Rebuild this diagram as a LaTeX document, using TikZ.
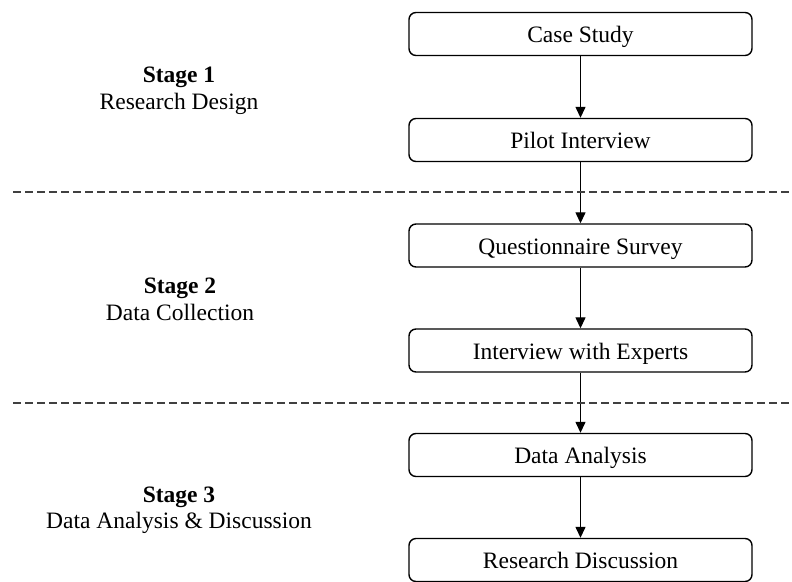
\documentclass[tikz,border=0pt]{standalone}
\usepackage{fontspec}
\setmainfont{Liberation Serif}
\usetikzlibrary{arrows.meta}
\begin{document}
\begin{tikzpicture}[x=1pt,y=-1pt,
  stepbox/.style={draw, line width=1.4pt, rounded corners=7pt, minimum width=343pt, minimum height=43pt, inner sep=0pt, text height=17pt, text depth=0pt, font=\fontsize{23.5}{27}\selectfont},
  stagetitle/.style={anchor=base, font=\fontsize{23.5}{27}\selectfont\bfseries, inner sep=0pt},
  stagesub/.style={anchor=base, font=\fontsize{23.5}{27}\selectfont, inner sep=0pt},
  flow/.style={line width=1.3pt, -{Triangle[length=11pt,width=10pt]}},
  divider/.style={line width=1.3pt, draw=black!75, dash pattern=on 8pt off 4pt}]
\useasboundingbox (0,0) rectangle (792,581);
\node[stepbox] (cs) at (580.5,34) {Case Study};
\node[stepbox] (pi) at (580.5,140) {Pilot Interview};
\node[stepbox] (qs) at (580.5,245.5) {Questionnaire Survey};
\node[stepbox] (ie) at (580.5,350.5) {Interview with Experts};
\node[stepbox] (da) at (580.5,455) {Data Analysis};
\node[stepbox] (rd) at (580.5,560) {Research Discussion};
\draw[flow] (cs) -- (pi);
\draw[flow] (pi) -- (qs);
\draw[flow] (qs) -- (ie);
\draw[flow] (ie) -- (da);
\draw[flow] (da) -- (rd);
\coordinate (d1a) at (13,192);
\coordinate (d1b) at (792,192);
\coordinate (d2a) at (13,403);
\coordinate (d2b) at (792,403);
\draw[divider] (d1a) -- (d1b);
\draw[divider] (d2a) -- (d2b);
\node[stagetitle] (s1) at (179,82) {Stage 1};
\node[stagesub] (s1b) at (179,109) {Research Design};
\node[stagetitle] (s2) at (180,293) {Stage 2};
\node[stagesub] (s2b) at (180,320) {Data Collection};
\node[stagetitle] (s3) at (179,502) {Stage 3};
\node[stagesub] (s3b) at (179,528) {Data Analysis \& Discussion};
\end{tikzpicture}
\end{document}
